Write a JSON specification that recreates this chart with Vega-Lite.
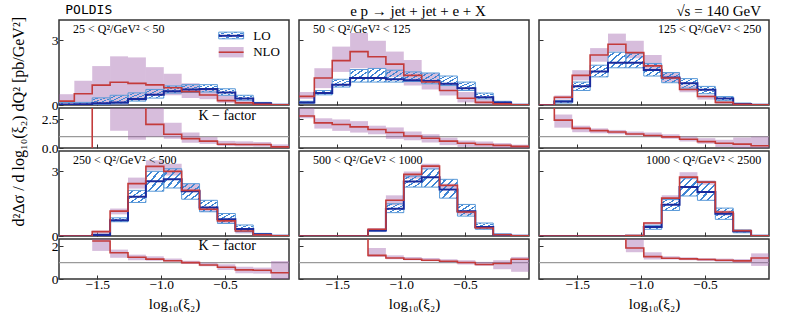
{
"$schema": "https://vega.github.io/schema/vega-lite/v6.json",
"background": "white",
"padding": {"left": 11, "top": 3, "right": 5, "bottom": 2},
"config": {
 "view": {"stroke": "#333", "strokeWidth": 1.5},
 "axis": {"domain": false, "grid": false, "tickSize": -4, "tickColor": "#333", "tickWidth": 1, "labelPadding": 5, "labelFont": "Liberation Serif", "labelFontSize": 13.5, "labelColor": "#000", "titleFont": "Liberation Serif", "titleFontSize": 15, "titleFontWeight": "normal", "titleColor": "#000"},
 "axisX": {"labelPadding": 2, "titlePadding": 6},
 "text": {"font": "Liberation Serif", "color": "#000"}
},
"title": {"text": "d²Δσ / d log₁₀(ξ₂) dQ² [pb/GeV²]", "orient": "left", "anchor": "middle", "font": "Liberation Serif", "fontSize": 16, "fontWeight": "normal", "color": "#000", "offset": 13, "dx": 36},
"datasets": {
 "p1": [
  {"x0": -1.82, "x1": -1.68, "lo": 0.02, "lolo": 0, "lohi": 0.12, "nlo": 0.18, "nlolo": 0, "nlohi": 0.5, "k": null, "klo": null, "khi": null},
  {"x0": -1.68, "x1": -1.54, "lo": 0.03, "lolo": 0, "lohi": 0.12, "nlo": 0.52, "nlolo": 0, "nlohi": 1.12, "k": -5, "klo": null, "khi": null},
  {"x0": -1.54, "x1": -1.4, "lo": 0.08, "lolo": 0.03, "lohi": 0.33, "nlo": 0.92, "nlolo": 0, "nlohi": 1.8, "k": 12, "klo": null, "khi": null},
  {"x0": -1.4, "x1": -1.26, "lo": 0.12, "lolo": 0.05, "lohi": 0.45, "nlo": 1.05, "nlolo": 0, "nlohi": 2.25, "k": 10, "klo": 1.5, "khi": 20},
  {"x0": -1.26, "x1": -1.12, "lo": 0.28, "lolo": 0.18, "lohi": 0.56, "nlo": 1.0, "nlolo": 0.2, "nlohi": 2.2, "k": 3.6, "klo": 0.72, "khi": 10},
  {"x0": -1.12, "x1": -0.98, "lo": 0.47, "lolo": 0.32, "lohi": 0.72, "nlo": 0.93, "nlolo": 0.45, "nlohi": 1.75, "k": 2.07, "klo": 1.0, "khi": 4},
  {"x0": -0.98, "x1": -0.84, "lo": 0.64, "lolo": 0.55, "lohi": 0.88, "nlo": 0.8, "nlolo": 0.45, "nlohi": 1.45, "k": 1.2, "klo": 0.8, "khi": 2.2},
  {"x0": -0.84, "x1": -0.7, "lo": 0.72, "lolo": 0.58, "lohi": 0.94, "nlo": 0.62, "nlolo": 0.32, "nlohi": 1.0, "k": 0.82, "klo": 0.45, "khi": 1.35},
  {"x0": -0.7, "x1": -0.56, "lo": 0.74, "lolo": 0.6, "lohi": 0.94, "nlo": 0.46, "nlolo": 0.27, "nlohi": 0.78, "k": 0.6, "klo": 0.36, "khi": 0.95},
  {"x0": -0.56, "x1": -0.42, "lo": 0.58, "lolo": 0.45, "lohi": 0.75, "nlo": 0.2, "nlolo": 0.1, "nlohi": 0.45, "k": 0.33, "klo": 0.18, "khi": 0.62},
  {"x0": -0.42, "x1": -0.28, "lo": 0.3, "lolo": 0.22, "lohi": 0.45, "nlo": 0.1, "nlolo": 0.03, "nlohi": 0.22, "k": 0.31, "klo": 0.15, "khi": 0.58},
  {"x0": -0.28, "x1": -0.14, "lo": 0.08, "lolo": 0.03, "lohi": 0.12, "nlo": 0.03, "nlolo": 0, "nlohi": 0.1, "k": 0.3, "klo": 0.12, "khi": 0.52},
  {"x0": -0.14, "x1": 0, "lo": 0.01, "lolo": null, "lohi": null, "nlo": 0.005, "nlolo": null, "nlohi": null, "k": 0.1, "klo": 0, "khi": 0.32}
 ],
 "p2": [
  {"x0": -1.82, "x1": -1.68, "lo": 0.12, "lolo": 0.08, "lohi": 0.17, "nlo": 0.4, "nlolo": 0.28, "nlohi": 0.6, "k": 2.8, "klo": 2.6, "khi": 3.6},
  {"x0": -1.68, "x1": -1.54, "lo": 0.56, "lolo": 0.47, "lohi": 0.67, "nlo": 1.25, "nlolo": 0.78, "nlohi": 1.7, "k": 2.2, "klo": 1.7, "khi": 2.6},
  {"x0": -1.54, "x1": -1.4, "lo": 0.94, "lolo": 0.83, "lohi": 1.19, "nlo": 2.05, "nlolo": 1.53, "nlohi": 2.7, "k": 2.05, "klo": 1.5, "khi": 2.5},
  {"x0": -1.4, "x1": -1.26, "lo": 1.25, "lolo": 1.06, "lohi": 1.64, "nlo": 2.47, "nlolo": 1.7, "nlohi": 3.33, "k": 1.85, "klo": 1.35, "khi": 2.35},
  {"x0": -1.26, "x1": -1.12, "lo": 1.25, "lolo": 1.06, "lohi": 1.69, "nlo": 2.23, "nlolo": 1.7, "nlohi": 2.97, "k": 1.62, "klo": 1.2, "khi": 1.95},
  {"x0": -1.12, "x1": -0.98, "lo": 1.19, "lolo": 1.06, "lohi": 1.61, "nlo": 1.89, "nlolo": 1.3, "nlohi": 2.47, "k": 1.35, "klo": 0.8, "khi": 1.8},
  {"x0": -0.98, "x1": -0.84, "lo": 1.14, "lolo": 1.09, "lohi": 1.53, "nlo": 1.37, "nlolo": 0.9, "nlohi": 2.08, "k": 1.05, "klo": 0.68, "khi": 1.45},
  {"x0": -0.84, "x1": -0.7, "lo": 1.11, "lolo": 0.98, "lohi": 1.48, "nlo": 1.06, "nlolo": 0.72, "nlohi": 1.48, "k": 0.85, "klo": 0.48, "khi": 1.2},
  {"x0": -0.7, "x1": -0.56, "lo": 0.98, "lolo": 0.9, "lohi": 1.34, "nlo": 0.67, "nlolo": 0.44, "nlohi": 1.0, "k": 0.6, "klo": 0.25, "khi": 0.9},
  {"x0": -0.56, "x1": -0.42, "lo": 0.78, "lolo": 0.67, "lohi": 1.06, "nlo": 0.31, "nlolo": 0.12, "nlohi": 0.6, "k": 0.42, "klo": 0.1, "khi": 0.65},
  {"x0": -0.42, "x1": -0.28, "lo": 0.36, "lolo": 0.28, "lohi": 0.55, "nlo": 0.12, "nlolo": 0.02, "nlohi": 0.25, "k": 0.3, "klo": 0.09, "khi": 0.57},
  {"x0": -0.28, "x1": -0.14, "lo": 0.12, "lolo": 0.08, "lohi": 0.17, "nlo": 0.05, "nlolo": 0.01, "nlohi": 0.08, "k": 0.23, "klo": 0, "khi": 0.43},
  {"x0": -0.14, "x1": 0, "lo": 0.01, "lolo": null, "lohi": null, "nlo": 0.01, "nlolo": null, "nlohi": null, "k": 0.14, "klo": 0, "khi": 0.29}
 ],
 "p3": [
  {"x0": -1.82, "x1": -1.68, "lo": 0, "lolo": null, "lohi": null, "nlo": 0, "nlolo": null, "nlohi": null, "k": 10, "klo": null, "khi": null},
  {"x0": -1.68, "x1": -1.54, "lo": 0.16, "lolo": 0.09, "lohi": 0.2, "nlo": 0.36, "nlolo": 0.25, "nlohi": 0.44, "k": 2.44, "klo": 1.78, "khi": 2.93},
  {"x0": -1.54, "x1": -1.4, "lo": 0.87, "lolo": 0.67, "lohi": 1.06, "nlo": 1.37, "nlolo": 1.14, "nlohi": 1.61, "k": 1.72, "klo": 1.38, "khi": 1.95},
  {"x0": -1.4, "x1": -1.26, "lo": 1.55, "lolo": 1.3, "lohi": 1.84, "nlo": 2.31, "nlolo": 2.0, "nlohi": 2.63, "k": 1.52, "klo": 1.29, "khi": 1.72},
  {"x0": -1.26, "x1": -1.12, "lo": 1.95, "lolo": 1.72, "lohi": 2.44, "nlo": 2.81, "nlolo": 2.47, "nlohi": 3.3, "k": 1.4, "klo": 1.21, "khi": 1.58},
  {"x0": -1.12, "x1": -0.98, "lo": 1.95, "lolo": 1.72, "lohi": 2.39, "nlo": 2.42, "nlolo": 2.16, "nlohi": 2.97, "k": 1.22, "klo": 1.09, "khi": 1.44},
  {"x0": -0.98, "x1": -0.84, "lo": 1.62, "lolo": 1.34, "lohi": 1.92, "nlo": 1.81, "nlolo": 1.61, "nlohi": 2.31, "k": 1.1, "klo": 1.0, "khi": 1.35},
  {"x0": -0.84, "x1": -0.7, "lo": 1.27, "lolo": 1.03, "lohi": 1.5, "nlo": 1.25, "nlolo": 1.06, "nlohi": 1.53, "k": 0.97, "klo": 0.8, "khi": 1.21},
  {"x0": -0.7, "x1": -0.56, "lo": 1.0, "lolo": 0.78, "lohi": 1.22, "nlo": 0.72, "nlolo": 0.59, "nlohi": 0.9, "k": 0.76, "klo": 0.57, "khi": 1.0},
  {"x0": -0.56, "x1": -0.42, "lo": 0.7, "lolo": 0.52, "lohi": 0.86, "nlo": 0.39, "nlolo": 0.25, "nlohi": 0.47, "k": 0.56, "klo": 0.37, "khi": 0.86},
  {"x0": -0.42, "x1": -0.28, "lo": 0.3, "lolo": 0.2, "lohi": 0.39, "nlo": 0.12, "nlolo": 0.05, "nlohi": 0.17, "k": 0.42, "klo": 0.09, "khi": 0.72},
  {"x0": -0.28, "x1": -0.14, "lo": 0.05, "lolo": 0.02, "lohi": 0.09, "nlo": 0.03, "nlolo": 0, "nlohi": 0.05, "k": 0.34, "klo": 0, "khi": 0.92},
  {"x0": -0.14, "x1": 0, "lo": 0.01, "lolo": null, "lohi": null, "nlo": 0.005, "nlolo": null, "nlohi": null, "k": 0.2, "klo": 0, "khi": 1.0}
 ],
 "p4": [
  {"x0": -1.82, "x1": -1.68, "lo": 0, "lolo": null, "lohi": null, "nlo": 0, "nlolo": null, "nlohi": null, "k": null, "klo": null, "khi": null},
  {"x0": -1.68, "x1": -1.54, "lo": 0, "lolo": null, "lohi": null, "nlo": 0, "nlolo": null, "nlohi": null, "k": null, "klo": null, "khi": null},
  {"x0": -1.54, "x1": -1.4, "lo": 0.05, "lolo": 0.02, "lohi": 0.08, "nlo": 0.2, "nlolo": 0, "nlohi": 0.25, "k": 2.33, "klo": 1.72, "khi": 2.8},
  {"x0": -1.4, "x1": -1.26, "lo": 0.73, "lolo": 0.66, "lohi": 0.84, "nlo": 1.15, "nlolo": 1.0, "nlohi": 1.27, "k": 1.61, "klo": 1.3, "khi": 1.8},
  {"x0": -1.26, "x1": -1.12, "lo": 1.81, "lolo": 1.55, "lohi": 2.11, "nlo": 2.42, "nlolo": 2.19, "nlohi": 2.7, "k": 1.33, "klo": 1.15, "khi": 1.49},
  {"x0": -1.12, "x1": -0.98, "lo": 2.53, "lolo": 2.07, "lohi": 2.99, "nlo": 3.22, "nlolo": 3.03, "nlohi": 3.5, "k": 1.22, "klo": 1.12, "khi": 1.39},
  {"x0": -0.98, "x1": -0.84, "lo": 2.62, "lolo": 2.22, "lohi": 3.11, "nlo": 2.99, "nlolo": 2.8, "nlohi": 3.34, "k": 1.12, "klo": 1.05, "khi": 1.25},
  {"x0": -0.84, "x1": -0.7, "lo": 2.07, "lolo": 1.7, "lohi": 2.42, "nlo": 2.11, "nlolo": 2.04, "nlohi": 2.42, "k": 1.0, "klo": 0.92, "khi": 1.12},
  {"x0": -0.7, "x1": -0.56, "lo": 1.32, "lolo": 1.12, "lohi": 1.65, "nlo": 1.24, "nlolo": 1.12, "nlohi": 1.35, "k": 0.86, "klo": 0.78, "khi": 1.0},
  {"x0": -0.56, "x1": -0.42, "lo": 0.78, "lolo": 0.58, "lohi": 1.04, "nlo": 0.7, "nlolo": 0.58, "nlohi": 0.78, "k": 0.72, "klo": 0.55, "khi": 0.9},
  {"x0": -0.42, "x1": -0.28, "lo": 0.32, "lolo": 0.2, "lohi": 0.51, "nlo": 0.23, "nlolo": 0.12, "nlohi": 0.28, "k": 0.56, "klo": 0.35, "khi": 0.75},
  {"x0": -0.28, "x1": -0.14, "lo": 0.08, "lolo": 0.03, "lohi": 0.12, "nlo": 0.05, "nlolo": 0.02, "nlohi": 0.07, "k": 0.54, "klo": 0.33, "khi": 0.7},
  {"x0": -0.14, "x1": 0, "lo": 0.01, "lolo": null, "lohi": null, "nlo": 0.01, "nlolo": null, "nlohi": null, "k": 0.38, "klo": 0, "khi": 1.1}
 ],
 "p5": [
  {"x0": -1.82, "x1": -1.68, "lo": 0, "lolo": null, "lohi": null, "nlo": 0, "nlolo": null, "nlohi": null, "k": null, "klo": null, "khi": null},
  {"x0": -1.68, "x1": -1.54, "lo": 0, "lolo": null, "lohi": null, "nlo": 0, "nlolo": null, "nlohi": null, "k": null, "klo": null, "khi": null},
  {"x0": -1.54, "x1": -1.4, "lo": 0, "lolo": null, "lohi": null, "nlo": 0, "nlolo": null, "nlohi": null, "k": null, "klo": null, "khi": null},
  {"x0": -1.4, "x1": -1.26, "lo": 0, "lolo": null, "lohi": null, "nlo": 0, "nlolo": null, "nlohi": null, "k": 10, "klo": null, "khi": null},
  {"x0": -1.26, "x1": -1.12, "lo": 0.26, "lolo": 0.22, "lohi": 0.29, "nlo": 0.31, "nlolo": 0.18, "nlohi": 0.37, "k": 1.45, "klo": 1.35, "khi": 1.9},
  {"x0": -1.12, "x1": -0.98, "lo": 1.26, "lolo": 1.08, "lohi": 1.49, "nlo": 1.65, "nlolo": 1.42, "nlohi": 1.88, "k": 1.29, "klo": 1.21, "khi": 1.45},
  {"x0": -0.98, "x1": -0.84, "lo": 2.52, "lolo": 2.26, "lohi": 2.77, "nlo": 2.85, "nlolo": 2.65, "nlohi": 2.98, "k": 1.21, "klo": 1.15, "khi": 1.35},
  {"x0": -0.84, "x1": -0.7, "lo": 2.72, "lolo": 2.26, "lohi": 3.1, "nlo": 3.23, "nlolo": 3.1, "nlohi": 3.34, "k": 1.15, "klo": 1.09, "khi": 1.29},
  {"x0": -0.7, "x1": -0.56, "lo": 2.15, "lolo": 1.75, "lohi": 2.62, "nlo": 2.34, "nlolo": 2.22, "nlohi": 2.42, "k": 1.09, "klo": 1.01, "khi": 1.21},
  {"x0": -0.56, "x1": -0.42, "lo": 1.14, "lolo": 0.92, "lohi": 1.46, "nlo": 1.11, "nlolo": 0.98, "nlohi": 1.18, "k": 1.01, "klo": 0.89, "khi": 1.15},
  {"x0": -0.42, "x1": -0.28, "lo": 0.42, "lolo": 0.31, "lohi": 0.6, "nlo": 0.37, "nlolo": 0.31, "nlohi": 0.42, "k": 0.89, "klo": 0.81, "khi": 1.05},
  {"x0": -0.28, "x1": -0.14, "lo": 0.06, "lolo": 0.03, "lohi": 0.09, "nlo": 0.06, "nlolo": 0.03, "nlohi": 0.08, "k": 0.95, "klo": 0.6, "khi": 1.15},
  {"x0": -0.14, "x1": 0, "lo": 0.01, "lolo": null, "lohi": null, "nlo": 0.01, "nlolo": null, "nlohi": null, "k": 1.21, "klo": 0.44, "khi": 1.35}
 ],
 "p6": [
  {"x0": -1.82, "x1": -1.68, "lo": 0, "lolo": null, "lohi": null, "nlo": 0, "nlolo": null, "nlohi": null, "k": null, "klo": null, "khi": null},
  {"x0": -1.68, "x1": -1.54, "lo": 0, "lolo": null, "lohi": null, "nlo": 0, "nlolo": null, "nlohi": null, "k": null, "klo": null, "khi": null},
  {"x0": -1.54, "x1": -1.4, "lo": 0, "lolo": null, "lohi": null, "nlo": 0, "nlolo": null, "nlohi": null, "k": null, "klo": null, "khi": null},
  {"x0": -1.4, "x1": -1.26, "lo": 0, "lolo": null, "lohi": null, "nlo": 0, "nlolo": null, "nlohi": null, "k": null, "klo": null, "khi": null},
  {"x0": -1.26, "x1": -1.12, "lo": 0, "lolo": null, "lohi": null, "nlo": 0, "nlolo": null, "nlohi": null, "k": 10, "klo": null, "khi": null},
  {"x0": -1.12, "x1": -0.98, "lo": 0.01, "lolo": null, "lohi": null, "nlo": 0.02, "nlolo": null, "nlohi": null, "k": 1.9, "klo": 1.64, "khi": 2.44},
  {"x0": -0.98, "x1": -0.84, "lo": 0.42, "lolo": 0.31, "lohi": 0.49, "nlo": 0.6, "nlolo": 0.52, "nlohi": 0.65, "k": 1.37, "klo": 1.2, "khi": 1.64},
  {"x0": -0.84, "x1": -0.7, "lo": 1.45, "lolo": 1.18, "lohi": 1.69, "nlo": 1.75, "nlolo": 1.65, "nlohi": 1.88, "k": 1.27, "klo": 1.2, "khi": 1.4},
  {"x0": -0.7, "x1": -0.56, "lo": 2.26, "lolo": 1.85, "lohi": 2.68, "nlo": 2.72, "nlolo": 2.62, "nlohi": 2.95, "k": 1.23, "klo": 1.15, "khi": 1.33},
  {"x0": -0.56, "x1": -0.42, "lo": 2.03, "lolo": 1.65, "lohi": 2.52, "nlo": 2.49, "nlolo": 2.37, "nlohi": 2.57, "k": 1.19, "klo": 1.1, "khi": 1.28},
  {"x0": -0.42, "x1": -0.28, "lo": 1.03, "lolo": 0.77, "lohi": 1.29, "nlo": 1.11, "nlolo": 0.95, "nlohi": 1.18, "k": 1.15, "klo": 1.05, "khi": 1.25},
  {"x0": -0.28, "x1": -0.14, "lo": 0.22, "lolo": 0.15, "lohi": 0.28, "nlo": 0.25, "nlolo": 0.18, "nlohi": 0.28, "k": 1.11, "klo": 0.98, "khi": 1.22},
  {"x0": -0.14, "x1": 0, "lo": 0.01, "lolo": null, "lohi": null, "nlo": 0.01, "nlolo": null, "nlohi": null, "k": 1.29, "klo": 0.8, "khi": 1.57}
 ]
},
"hconcat": [
 {"vconcat": [
   {"width": 230, "height": 85, "data": {"name": "p1"},
    "title": {"text": "POLDIS", "anchor": "start", "font": "DejaVu Sans Mono", "fontSize": 13, "fontWeight": "normal", "color": "#000", "dx": 14, "offset": 3},
    "layer": [
     {"mark": {"type": "rect", "fill": "#9c5aa8", "fillOpacity": 0.4, "clip": true},
      "encoding": {"x": {"field": "x0", "type": "quantitative", "scale": {"domain": [-1.8, 0], "nice": false}, "axis": {"values": [-1.5, -1, -0.5], "labels": false, "title": null, "maxExtent": 0}},
       "x2": {"field": "x1"},
       "y": {"field": "nlolo", "type": "quantitative", "scale": {"domain": [0, 3.93], "nice": false}, "axis": {"values": [0, 1, 2, 3], "format": "d", "title": null}},
       "y2": {"field": "nlohi"}}},
     {"mark": {"type": "rect", "fill": {"gradient": "linear", "x1": 0, "y1": 0, "x2": 1, "y2": 1, "stops": [{"offset": 0, "color": "rgba(255,255,255,0)"}, {"offset": 0.14, "color": "rgba(255,255,255,0)"}, {"offset": 0.14, "color": "#3f86d4"}, {"offset": 0.2, "color": "#3f86d4"}, {"offset": 0.2, "color": "rgba(255,255,255,0)"}, {"offset": 0.34, "color": "rgba(255,255,255,0)"}, {"offset": 0.34, "color": "#3f86d4"}, {"offset": 0.4, "color": "#3f86d4"}, {"offset": 0.4, "color": "rgba(255,255,255,0)"}, {"offset": 0.54, "color": "rgba(255,255,255,0)"}, {"offset": 0.54, "color": "#3f86d4"}, {"offset": 0.6, "color": "#3f86d4"}, {"offset": 0.6, "color": "rgba(255,255,255,0)"}, {"offset": 0.74, "color": "rgba(255,255,255,0)"}, {"offset": 0.74, "color": "#3f86d4"}, {"offset": 0.8, "color": "#3f86d4"}, {"offset": 0.8, "color": "rgba(255,255,255,0)"}, {"offset": 0.94, "color": "rgba(255,255,255,0)"}, {"offset": 0.94, "color": "#3f86d4"}, {"offset": 1, "color": "#3f86d4"}]}, "stroke": "#5b9ad8", "strokeWidth": 1, "clip": true},
      "encoding": {"x": {"field": "x0", "type": "quantitative"}, "x2": {"field": "x1"}, "y": {"field": "lolo", "type": "quantitative"}, "y2": {"field": "lohi"}}},
     {"transform": [{"fold": ["x0", "x1"], "as": ["edge", "x"]}],
      "mark": {"type": "line", "color": "#1a2a9c", "strokeWidth": 2, "clip": true},
      "encoding": {"x": {"field": "x", "type": "quantitative"}, "y": {"field": "lo", "type": "quantitative"}, "order": [{"field": "x", "type": "quantitative"}, {"field": "edge", "type": "nominal", "sort": "descending"}]}},
     {"transform": [{"fold": ["x0", "x1"], "as": ["edge", "x"]}],
      "mark": {"type": "line", "color": "#c33b3b", "strokeWidth": 1.6, "clip": true},
      "encoding": {"x": {"field": "x", "type": "quantitative"}, "y": {"field": "nlo", "type": "quantitative"}, "order": [{"field": "x", "type": "quantitative"}, {"field": "edge", "type": "nominal", "sort": "descending"}]}},
     {"data": {"values": [{}]}, "mark": {"type": "text", "text": "25 < Q²/GeV² < 50", "align": "left", "baseline": "middle", "fontSize": 12},
      "encoding": {"x": {"datum": -1.69}, "y": {"datum": 3.53}}},
     {"data": {"values": [{}]}, "mark": {"type": "rect", "fill": {"gradient": "linear", "x1": 0, "y1": 0, "x2": 1, "y2": 1, "stops": [{"offset": 0, "color": "rgba(255,255,255,0)"}, {"offset": 0.14, "color": "rgba(255,255,255,0)"}, {"offset": 0.14, "color": "#3f86d4"}, {"offset": 0.2, "color": "#3f86d4"}, {"offset": 0.2, "color": "rgba(255,255,255,0)"}, {"offset": 0.34, "color": "rgba(255,255,255,0)"}, {"offset": 0.34, "color": "#3f86d4"}, {"offset": 0.4, "color": "#3f86d4"}, {"offset": 0.4, "color": "rgba(255,255,255,0)"}, {"offset": 0.54, "color": "rgba(255,255,255,0)"}, {"offset": 0.54, "color": "#3f86d4"}, {"offset": 0.6, "color": "#3f86d4"}, {"offset": 0.6, "color": "rgba(255,255,255,0)"}, {"offset": 0.74, "color": "rgba(255,255,255,0)"}, {"offset": 0.74, "color": "#3f86d4"}, {"offset": 0.8, "color": "#3f86d4"}, {"offset": 0.8, "color": "rgba(255,255,255,0)"}, {"offset": 0.94, "color": "rgba(255,255,255,0)"}, {"offset": 0.94, "color": "#3f86d4"}, {"offset": 1, "color": "#3f86d4"}]}, "stroke": "#5b9ad8", "strokeWidth": 1},
      "encoding": {"x": {"datum": -0.55}, "x2": {"datum": -0.355}, "y": {"datum": 3.06}, "y2": {"datum": 3.37}}},
     {"data": {"values": [{}]}, "mark": {"type": "rule", "color": "#1a2a9c", "strokeWidth": 2},
      "encoding": {"x": {"datum": -0.55}, "x2": {"datum": -0.355}, "y": {"datum": 3.2}}},
     {"data": {"values": [{}]}, "mark": {"type": "rect", "fill": "#9c5aa8", "fillOpacity": 0.4},
      "encoding": {"x": {"datum": -0.55}, "x2": {"datum": -0.355}, "y": {"datum": 2.2}, "y2": {"datum": 2.68}}},
     {"data": {"values": [{}]}, "mark": {"type": "rule", "color": "#c33b3b", "strokeWidth": 1.6},
      "encoding": {"x": {"datum": -0.55}, "x2": {"datum": -0.355}, "y": {"datum": 2.44}}},
     {"data": {"values": [{}]}, "mark": {"type": "text", "text": "LO", "align": "left", "baseline": "middle", "fontSize": 13},
      "encoding": {"x": {"datum": -0.28}, "y": {"datum": 3.2}}},
     {"data": {"values": [{}]}, "mark": {"type": "text", "text": "NLO", "align": "left", "baseline": "middle", "fontSize": 13},
      "encoding": {"x": {"datum": -0.28}, "y": {"datum": 2.44}}}
    ]},
   {"width": 230, "height": 40, "data": {"name": "p1"},
    "layer": [
     {"data": {"values": [{}]}, "mark": {"type": "rule", "color": "#9a9a9a", "strokeWidth": 1.3}, "encoding": {"y": {"datum": 1}}},
     {"mark": {"type": "rect", "fill": "#9c5aa8", "fillOpacity": 0.4, "clip": true},
      "encoding": {"x": {"field": "x0", "type": "quantitative", "scale": {"domain": [-1.8, 0], "nice": false}, "axis": {"values": [-1.5, -1, -0.5], "labels": false, "title": null, "maxExtent": 0}},
       "x2": {"field": "x1"},
       "y": {"field": "klo", "type": "quantitative", "scale": {"domain": [0, 3.5], "nice": false}, "axis": {"values": [0, 2.5], "format": ".1f", "title": null}},
       "y2": {"field": "khi"}}},
     {"transform": [{"fold": ["x0", "x1"], "as": ["edge", "x"]}],
      "mark": {"type": "line", "color": "#c33b3b", "strokeWidth": 1.6, "clip": true},
      "encoding": {"x": {"field": "x", "type": "quantitative"}, "y": {"field": "k", "type": "quantitative"}, "order": [{"field": "x", "type": "quantitative"}, {"field": "edge", "type": "nominal", "sort": "descending"}]}},
     {"data": {"values": [{}]}, "mark": {"type": "text", "text": "K − factor", "align": "right", "baseline": "middle", "fontSize": 14},
      "encoding": {"x": {"datum": -0.258}, "y": {"datum": 2.76}}}
    ]},
   {"width": 230, "height": 85, "data": {"name": "p4"},
    "layer": [
     {"mark": {"type": "rect", "fill": "#9c5aa8", "fillOpacity": 0.4, "clip": true},
      "encoding": {"x": {"field": "x0", "type": "quantitative", "scale": {"domain": [-1.8, 0], "nice": false}, "axis": {"values": [-1.5, -1, -0.5], "labels": false, "title": null, "maxExtent": 0}},
       "x2": {"field": "x1"},
       "y": {"field": "nlolo", "type": "quantitative", "scale": {"domain": [0, 3.93], "nice": false}, "axis": {"values": [0, 1, 2, 3], "format": "d", "title": null}},
       "y2": {"field": "nlohi"}}},
     {"mark": {"type": "rect", "fill": {"gradient": "linear", "x1": 0, "y1": 0, "x2": 1, "y2": 1, "stops": [{"offset": 0, "color": "rgba(255,255,255,0)"}, {"offset": 0.14, "color": "rgba(255,255,255,0)"}, {"offset": 0.14, "color": "#3f86d4"}, {"offset": 0.2, "color": "#3f86d4"}, {"offset": 0.2, "color": "rgba(255,255,255,0)"}, {"offset": 0.34, "color": "rgba(255,255,255,0)"}, {"offset": 0.34, "color": "#3f86d4"}, {"offset": 0.4, "color": "#3f86d4"}, {"offset": 0.4, "color": "rgba(255,255,255,0)"}, {"offset": 0.54, "color": "rgba(255,255,255,0)"}, {"offset": 0.54, "color": "#3f86d4"}, {"offset": 0.6, "color": "#3f86d4"}, {"offset": 0.6, "color": "rgba(255,255,255,0)"}, {"offset": 0.74, "color": "rgba(255,255,255,0)"}, {"offset": 0.74, "color": "#3f86d4"}, {"offset": 0.8, "color": "#3f86d4"}, {"offset": 0.8, "color": "rgba(255,255,255,0)"}, {"offset": 0.94, "color": "rgba(255,255,255,0)"}, {"offset": 0.94, "color": "#3f86d4"}, {"offset": 1, "color": "#3f86d4"}]}, "stroke": "#5b9ad8", "strokeWidth": 1, "clip": true},
      "encoding": {"x": {"field": "x0", "type": "quantitative"}, "x2": {"field": "x1"}, "y": {"field": "lolo", "type": "quantitative"}, "y2": {"field": "lohi"}}},
     {"transform": [{"fold": ["x0", "x1"], "as": ["edge", "x"]}],
      "mark": {"type": "line", "color": "#1a2a9c", "strokeWidth": 2, "clip": true},
      "encoding": {"x": {"field": "x", "type": "quantitative"}, "y": {"field": "lo", "type": "quantitative"}, "order": [{"field": "x", "type": "quantitative"}, {"field": "edge", "type": "nominal", "sort": "descending"}]}},
     {"transform": [{"fold": ["x0", "x1"], "as": ["edge", "x"]}],
      "mark": {"type": "line", "color": "#c33b3b", "strokeWidth": 1.6, "clip": true},
      "encoding": {"x": {"field": "x", "type": "quantitative"}, "y": {"field": "nlo", "type": "quantitative"}, "order": [{"field": "x", "type": "quantitative"}, {"field": "edge", "type": "nominal", "sort": "descending"}]}},
     {"data": {"values": [{}]}, "mark": {"type": "text", "text": "250 < Q²/GeV² < 500", "align": "left", "baseline": "middle", "fontSize": 12},
      "encoding": {"x": {"datum": -1.69}, "y": {"datum": 3.53}}}
    ]},
   {"width": 230, "height": 40, "data": {"name": "p4"},
    "layer": [
     {"data": {"values": [{}]}, "mark": {"type": "rule", "color": "#9a9a9a", "strokeWidth": 1.3}, "encoding": {"y": {"datum": 1}}},
     {"mark": {"type": "rect", "fill": "#9c5aa8", "fillOpacity": 0.4, "clip": true},
      "encoding": {"x": {"field": "x0", "type": "quantitative", "scale": {"domain": [-1.8, 0], "nice": false}, "axis": {"values": [-1.5, -1, -0.5], "format": ".1f", "title": "log₁₀(ξ₂)"}},
       "x2": {"field": "x1"},
       "y": {"field": "klo", "type": "quantitative", "scale": {"domain": [0, 2.45], "nice": false}, "axis": {"values": [0, 2], "format": "d", "title": null}},
       "y2": {"field": "khi"}}},
     {"transform": [{"fold": ["x0", "x1"], "as": ["edge", "x"]}],
      "mark": {"type": "line", "color": "#c33b3b", "strokeWidth": 1.6, "clip": true},
      "encoding": {"x": {"field": "x", "type": "quantitative"}, "y": {"field": "k", "type": "quantitative"}, "order": [{"field": "x", "type": "quantitative"}, {"field": "edge", "type": "nominal", "sort": "descending"}]}},
     {"data": {"values": [{}]}, "mark": {"type": "text", "text": "K − factor", "align": "right", "baseline": "middle", "fontSize": 14},
      "encoding": {"x": {"datum": -0.258}, "y": {"datum": 2.05}}}
    ]}
  ], "spacing": 3, "bounds": "flush"},
 {"vconcat": [
   {"width": 230, "height": 85, "data": {"name": "p2"},
    "title": {"text": "e p → jet + jet + e + X", "anchor": "middle", "font": "Liberation Serif", "fontSize": 15, "fontWeight": "normal", "color": "#000", "dx": 4, "offset": 1},
    "layer": [
     {"mark": {"type": "rect", "fill": "#9c5aa8", "fillOpacity": 0.4, "clip": true},
      "encoding": {"x": {"field": "x0", "type": "quantitative", "scale": {"domain": [-1.8, 0], "nice": false}, "axis": {"values": [-1.5, -1, -0.5], "labels": false, "title": null, "maxExtent": 0}},
       "x2": {"field": "x1"},
       "y": {"field": "nlolo", "type": "quantitative", "scale": {"domain": [0, 3.93], "nice": false}, "axis": {"values": [0, 1, 2, 3], "labels": false, "title": null, "maxExtent": 0}},
       "y2": {"field": "nlohi"}}},
     {"mark": {"type": "rect", "fill": {"gradient": "linear", "x1": 0, "y1": 0, "x2": 1, "y2": 1, "stops": [{"offset": 0, "color": "rgba(255,255,255,0)"}, {"offset": 0.14, "color": "rgba(255,255,255,0)"}, {"offset": 0.14, "color": "#3f86d4"}, {"offset": 0.2, "color": "#3f86d4"}, {"offset": 0.2, "color": "rgba(255,255,255,0)"}, {"offset": 0.34, "color": "rgba(255,255,255,0)"}, {"offset": 0.34, "color": "#3f86d4"}, {"offset": 0.4, "color": "#3f86d4"}, {"offset": 0.4, "color": "rgba(255,255,255,0)"}, {"offset": 0.54, "color": "rgba(255,255,255,0)"}, {"offset": 0.54, "color": "#3f86d4"}, {"offset": 0.6, "color": "#3f86d4"}, {"offset": 0.6, "color": "rgba(255,255,255,0)"}, {"offset": 0.74, "color": "rgba(255,255,255,0)"}, {"offset": 0.74, "color": "#3f86d4"}, {"offset": 0.8, "color": "#3f86d4"}, {"offset": 0.8, "color": "rgba(255,255,255,0)"}, {"offset": 0.94, "color": "rgba(255,255,255,0)"}, {"offset": 0.94, "color": "#3f86d4"}, {"offset": 1, "color": "#3f86d4"}]}, "stroke": "#5b9ad8", "strokeWidth": 1, "clip": true},
      "encoding": {"x": {"field": "x0", "type": "quantitative"}, "x2": {"field": "x1"}, "y": {"field": "lolo", "type": "quantitative"}, "y2": {"field": "lohi"}}},
     {"transform": [{"fold": ["x0", "x1"], "as": ["edge", "x"]}],
      "mark": {"type": "line", "color": "#1a2a9c", "strokeWidth": 2, "clip": true},
      "encoding": {"x": {"field": "x", "type": "quantitative"}, "y": {"field": "lo", "type": "quantitative"}, "order": [{"field": "x", "type": "quantitative"}, {"field": "edge", "type": "nominal", "sort": "descending"}]}},
     {"transform": [{"fold": ["x0", "x1"], "as": ["edge", "x"]}],
      "mark": {"type": "line", "color": "#c33b3b", "strokeWidth": 1.6, "clip": true},
      "encoding": {"x": {"field": "x", "type": "quantitative"}, "y": {"field": "nlo", "type": "quantitative"}, "order": [{"field": "x", "type": "quantitative"}, {"field": "edge", "type": "nominal", "sort": "descending"}]}},
     {"data": {"values": [{}]}, "mark": {"type": "text", "text": "50 < Q²/GeV² < 125", "align": "left", "baseline": "middle", "fontSize": 12},
      "encoding": {"x": {"datum": -1.69}, "y": {"datum": 3.53}}}
    ]},
   {"width": 230, "height": 40, "data": {"name": "p2"},
    "layer": [
     {"data": {"values": [{}]}, "mark": {"type": "rule", "color": "#9a9a9a", "strokeWidth": 1.3}, "encoding": {"y": {"datum": 1}}},
     {"mark": {"type": "rect", "fill": "#9c5aa8", "fillOpacity": 0.4, "clip": true},
      "encoding": {"x": {"field": "x0", "type": "quantitative", "scale": {"domain": [-1.8, 0], "nice": false}, "axis": {"values": [-1.5, -1, -0.5], "labels": false, "title": null, "maxExtent": 0}},
       "x2": {"field": "x1"},
       "y": {"field": "klo", "type": "quantitative", "scale": {"domain": [0, 3.5], "nice": false}, "axis": {"values": [0, 2.5], "labels": false, "title": null, "maxExtent": 0}},
       "y2": {"field": "khi"}}},
     {"transform": [{"fold": ["x0", "x1"], "as": ["edge", "x"]}],
      "mark": {"type": "line", "color": "#c33b3b", "strokeWidth": 1.6, "clip": true},
      "encoding": {"x": {"field": "x", "type": "quantitative"}, "y": {"field": "k", "type": "quantitative"}, "order": [{"field": "x", "type": "quantitative"}, {"field": "edge", "type": "nominal", "sort": "descending"}]}}
    ]},
   {"width": 230, "height": 85, "data": {"name": "p5"},
    "layer": [
     {"mark": {"type": "rect", "fill": "#9c5aa8", "fillOpacity": 0.4, "clip": true},
      "encoding": {"x": {"field": "x0", "type": "quantitative", "scale": {"domain": [-1.8, 0], "nice": false}, "axis": {"values": [-1.5, -1, -0.5], "labels": false, "title": null, "maxExtent": 0}},
       "x2": {"field": "x1"},
       "y": {"field": "nlolo", "type": "quantitative", "scale": {"domain": [0, 3.93], "nice": false}, "axis": {"values": [0, 1, 2, 3], "labels": false, "title": null, "maxExtent": 0}},
       "y2": {"field": "nlohi"}}},
     {"mark": {"type": "rect", "fill": {"gradient": "linear", "x1": 0, "y1": 0, "x2": 1, "y2": 1, "stops": [{"offset": 0, "color": "rgba(255,255,255,0)"}, {"offset": 0.14, "color": "rgba(255,255,255,0)"}, {"offset": 0.14, "color": "#3f86d4"}, {"offset": 0.2, "color": "#3f86d4"}, {"offset": 0.2, "color": "rgba(255,255,255,0)"}, {"offset": 0.34, "color": "rgba(255,255,255,0)"}, {"offset": 0.34, "color": "#3f86d4"}, {"offset": 0.4, "color": "#3f86d4"}, {"offset": 0.4, "color": "rgba(255,255,255,0)"}, {"offset": 0.54, "color": "rgba(255,255,255,0)"}, {"offset": 0.54, "color": "#3f86d4"}, {"offset": 0.6, "color": "#3f86d4"}, {"offset": 0.6, "color": "rgba(255,255,255,0)"}, {"offset": 0.74, "color": "rgba(255,255,255,0)"}, {"offset": 0.74, "color": "#3f86d4"}, {"offset": 0.8, "color": "#3f86d4"}, {"offset": 0.8, "color": "rgba(255,255,255,0)"}, {"offset": 0.94, "color": "rgba(255,255,255,0)"}, {"offset": 0.94, "color": "#3f86d4"}, {"offset": 1, "color": "#3f86d4"}]}, "stroke": "#5b9ad8", "strokeWidth": 1, "clip": true},
      "encoding": {"x": {"field": "x0", "type": "quantitative"}, "x2": {"field": "x1"}, "y": {"field": "lolo", "type": "quantitative"}, "y2": {"field": "lohi"}}},
     {"transform": [{"fold": ["x0", "x1"], "as": ["edge", "x"]}],
      "mark": {"type": "line", "color": "#1a2a9c", "strokeWidth": 2, "clip": true},
      "encoding": {"x": {"field": "x", "type": "quantitative"}, "y": {"field": "lo", "type": "quantitative"}, "order": [{"field": "x", "type": "quantitative"}, {"field": "edge", "type": "nominal", "sort": "descending"}]}},
     {"transform": [{"fold": ["x0", "x1"], "as": ["edge", "x"]}],
      "mark": {"type": "line", "color": "#c33b3b", "strokeWidth": 1.6, "clip": true},
      "encoding": {"x": {"field": "x", "type": "quantitative"}, "y": {"field": "nlo", "type": "quantitative"}, "order": [{"field": "x", "type": "quantitative"}, {"field": "edge", "type": "nominal", "sort": "descending"}]}},
     {"data": {"values": [{}]}, "mark": {"type": "text", "text": "500 < Q²/GeV² < 1000", "align": "left", "baseline": "middle", "fontSize": 12},
      "encoding": {"x": {"datum": -1.69}, "y": {"datum": 3.53}}}
    ]},
   {"width": 230, "height": 40, "data": {"name": "p5"},
    "layer": [
     {"data": {"values": [{}]}, "mark": {"type": "rule", "color": "#9a9a9a", "strokeWidth": 1.3}, "encoding": {"y": {"datum": 1}}},
     {"mark": {"type": "rect", "fill": "#9c5aa8", "fillOpacity": 0.4, "clip": true},
      "encoding": {"x": {"field": "x0", "type": "quantitative", "scale": {"domain": [-1.8, 0], "nice": false}, "axis": {"values": [-1.5, -1, -0.5], "format": ".1f", "title": "log₁₀(ξ₂)"}},
       "x2": {"field": "x1"},
       "y": {"field": "klo", "type": "quantitative", "scale": {"domain": [0, 2.45], "nice": false}, "axis": {"values": [0, 2], "labels": false, "title": null, "maxExtent": 0}},
       "y2": {"field": "khi"}}},
     {"transform": [{"fold": ["x0", "x1"], "as": ["edge", "x"]}],
      "mark": {"type": "line", "color": "#c33b3b", "strokeWidth": 1.6, "clip": true},
      "encoding": {"x": {"field": "x", "type": "quantitative"}, "y": {"field": "k", "type": "quantitative"}, "order": [{"field": "x", "type": "quantitative"}, {"field": "edge", "type": "nominal", "sort": "descending"}]}}
    ]}
  ], "spacing": 3, "bounds": "flush"},
 {"vconcat": [
   {"width": 230, "height": 85, "data": {"name": "p3"},
    "title": {"text": "√s = 140 GeV", "anchor": "end", "font": "Liberation Serif", "fontSize": 15, "fontWeight": "normal", "color": "#000", "dx": -8, "offset": 1},
    "layer": [
     {"mark": {"type": "rect", "fill": "#9c5aa8", "fillOpacity": 0.4, "clip": true},
      "encoding": {"x": {"field": "x0", "type": "quantitative", "scale": {"domain": [-1.8, 0], "nice": false}, "axis": {"values": [-1.5, -1, -0.5], "labels": false, "title": null, "maxExtent": 0}},
       "x2": {"field": "x1"},
       "y": {"field": "nlolo", "type": "quantitative", "scale": {"domain": [0, 3.93], "nice": false}, "axis": {"values": [0, 1, 2, 3], "labels": false, "title": null, "maxExtent": 0}},
       "y2": {"field": "nlohi"}}},
     {"mark": {"type": "rect", "fill": {"gradient": "linear", "x1": 0, "y1": 0, "x2": 1, "y2": 1, "stops": [{"offset": 0, "color": "rgba(255,255,255,0)"}, {"offset": 0.14, "color": "rgba(255,255,255,0)"}, {"offset": 0.14, "color": "#3f86d4"}, {"offset": 0.2, "color": "#3f86d4"}, {"offset": 0.2, "color": "rgba(255,255,255,0)"}, {"offset": 0.34, "color": "rgba(255,255,255,0)"}, {"offset": 0.34, "color": "#3f86d4"}, {"offset": 0.4, "color": "#3f86d4"}, {"offset": 0.4, "color": "rgba(255,255,255,0)"}, {"offset": 0.54, "color": "rgba(255,255,255,0)"}, {"offset": 0.54, "color": "#3f86d4"}, {"offset": 0.6, "color": "#3f86d4"}, {"offset": 0.6, "color": "rgba(255,255,255,0)"}, {"offset": 0.74, "color": "rgba(255,255,255,0)"}, {"offset": 0.74, "color": "#3f86d4"}, {"offset": 0.8, "color": "#3f86d4"}, {"offset": 0.8, "color": "rgba(255,255,255,0)"}, {"offset": 0.94, "color": "rgba(255,255,255,0)"}, {"offset": 0.94, "color": "#3f86d4"}, {"offset": 1, "color": "#3f86d4"}]}, "stroke": "#5b9ad8", "strokeWidth": 1, "clip": true},
      "encoding": {"x": {"field": "x0", "type": "quantitative"}, "x2": {"field": "x1"}, "y": {"field": "lolo", "type": "quantitative"}, "y2": {"field": "lohi"}}},
     {"transform": [{"fold": ["x0", "x1"], "as": ["edge", "x"]}],
      "mark": {"type": "line", "color": "#1a2a9c", "strokeWidth": 2, "clip": true},
      "encoding": {"x": {"field": "x", "type": "quantitative"}, "y": {"field": "lo", "type": "quantitative"}, "order": [{"field": "x", "type": "quantitative"}, {"field": "edge", "type": "nominal", "sort": "descending"}]}},
     {"transform": [{"fold": ["x0", "x1"], "as": ["edge", "x"]}],
      "mark": {"type": "line", "color": "#c33b3b", "strokeWidth": 1.6, "clip": true},
      "encoding": {"x": {"field": "x", "type": "quantitative"}, "y": {"field": "nlo", "type": "quantitative"}, "order": [{"field": "x", "type": "quantitative"}, {"field": "edge", "type": "nominal", "sort": "descending"}]}},
     {"data": {"values": [{}]}, "mark": {"type": "text", "text": "125 < Q²/GeV² < 250", "align": "right", "baseline": "middle", "fontSize": 12},
      "encoding": {"x": {"datum": -0.06}, "y": {"datum": 3.53}}}
    ]},
   {"width": 230, "height": 40, "data": {"name": "p3"},
    "layer": [
     {"data": {"values": [{}]}, "mark": {"type": "rule", "color": "#9a9a9a", "strokeWidth": 1.3}, "encoding": {"y": {"datum": 1}}},
     {"mark": {"type": "rect", "fill": "#9c5aa8", "fillOpacity": 0.4, "clip": true},
      "encoding": {"x": {"field": "x0", "type": "quantitative", "scale": {"domain": [-1.8, 0], "nice": false}, "axis": {"values": [-1.5, -1, -0.5], "labels": false, "title": null, "maxExtent": 0}},
       "x2": {"field": "x1"},
       "y": {"field": "klo", "type": "quantitative", "scale": {"domain": [0, 3.5], "nice": false}, "axis": {"values": [0, 2.5], "labels": false, "title": null, "maxExtent": 0}},
       "y2": {"field": "khi"}}},
     {"transform": [{"fold": ["x0", "x1"], "as": ["edge", "x"]}],
      "mark": {"type": "line", "color": "#c33b3b", "strokeWidth": 1.6, "clip": true},
      "encoding": {"x": {"field": "x", "type": "quantitative"}, "y": {"field": "k", "type": "quantitative"}, "order": [{"field": "x", "type": "quantitative"}, {"field": "edge", "type": "nominal", "sort": "descending"}]}}
    ]},
   {"width": 230, "height": 85, "data": {"name": "p6"},
    "layer": [
     {"mark": {"type": "rect", "fill": "#9c5aa8", "fillOpacity": 0.4, "clip": true},
      "encoding": {"x": {"field": "x0", "type": "quantitative", "scale": {"domain": [-1.8, 0], "nice": false}, "axis": {"values": [-1.5, -1, -0.5], "labels": false, "title": null, "maxExtent": 0}},
       "x2": {"field": "x1"},
       "y": {"field": "nlolo", "type": "quantitative", "scale": {"domain": [0, 3.93], "nice": false}, "axis": {"values": [0, 1, 2, 3], "labels": false, "title": null, "maxExtent": 0}},
       "y2": {"field": "nlohi"}}},
     {"mark": {"type": "rect", "fill": {"gradient": "linear", "x1": 0, "y1": 0, "x2": 1, "y2": 1, "stops": [{"offset": 0, "color": "rgba(255,255,255,0)"}, {"offset": 0.14, "color": "rgba(255,255,255,0)"}, {"offset": 0.14, "color": "#3f86d4"}, {"offset": 0.2, "color": "#3f86d4"}, {"offset": 0.2, "color": "rgba(255,255,255,0)"}, {"offset": 0.34, "color": "rgba(255,255,255,0)"}, {"offset": 0.34, "color": "#3f86d4"}, {"offset": 0.4, "color": "#3f86d4"}, {"offset": 0.4, "color": "rgba(255,255,255,0)"}, {"offset": 0.54, "color": "rgba(255,255,255,0)"}, {"offset": 0.54, "color": "#3f86d4"}, {"offset": 0.6, "color": "#3f86d4"}, {"offset": 0.6, "color": "rgba(255,255,255,0)"}, {"offset": 0.74, "color": "rgba(255,255,255,0)"}, {"offset": 0.74, "color": "#3f86d4"}, {"offset": 0.8, "color": "#3f86d4"}, {"offset": 0.8, "color": "rgba(255,255,255,0)"}, {"offset": 0.94, "color": "rgba(255,255,255,0)"}, {"offset": 0.94, "color": "#3f86d4"}, {"offset": 1, "color": "#3f86d4"}]}, "stroke": "#5b9ad8", "strokeWidth": 1, "clip": true},
      "encoding": {"x": {"field": "x0", "type": "quantitative"}, "x2": {"field": "x1"}, "y": {"field": "lolo", "type": "quantitative"}, "y2": {"field": "lohi"}}},
     {"transform": [{"fold": ["x0", "x1"], "as": ["edge", "x"]}],
      "mark": {"type": "line", "color": "#1a2a9c", "strokeWidth": 2, "clip": true},
      "encoding": {"x": {"field": "x", "type": "quantitative"}, "y": {"field": "lo", "type": "quantitative"}, "order": [{"field": "x", "type": "quantitative"}, {"field": "edge", "type": "nominal", "sort": "descending"}]}},
     {"transform": [{"fold": ["x0", "x1"], "as": ["edge", "x"]}],
      "mark": {"type": "line", "color": "#c33b3b", "strokeWidth": 1.6, "clip": true},
      "encoding": {"x": {"field": "x", "type": "quantitative"}, "y": {"field": "nlo", "type": "quantitative"}, "order": [{"field": "x", "type": "quantitative"}, {"field": "edge", "type": "nominal", "sort": "descending"}]}},
     {"data": {"values": [{}]}, "mark": {"type": "text", "text": "1000 < Q²/GeV² < 2500", "align": "right", "baseline": "middle", "fontSize": 12},
      "encoding": {"x": {"datum": -0.06}, "y": {"datum": 3.53}}}
    ]},
   {"width": 230, "height": 40, "data": {"name": "p6"},
    "layer": [
     {"data": {"values": [{}]}, "mark": {"type": "rule", "color": "#9a9a9a", "strokeWidth": 1.3}, "encoding": {"y": {"datum": 1}}},
     {"mark": {"type": "rect", "fill": "#9c5aa8", "fillOpacity": 0.4, "clip": true},
      "encoding": {"x": {"field": "x0", "type": "quantitative", "scale": {"domain": [-1.8, 0], "nice": false}, "axis": {"values": [-1.5, -1, -0.5], "format": ".1f", "title": "log₁₀(ξ₂)"}},
       "x2": {"field": "x1"},
       "y": {"field": "klo", "type": "quantitative", "scale": {"domain": [0, 2.45], "nice": false}, "axis": {"values": [0, 2], "labels": false, "title": null, "maxExtent": 0}},
       "y2": {"field": "khi"}}},
     {"transform": [{"fold": ["x0", "x1"], "as": ["edge", "x"]}],
      "mark": {"type": "line", "color": "#c33b3b", "strokeWidth": 1.6, "clip": true},
      "encoding": {"x": {"field": "x", "type": "quantitative"}, "y": {"field": "k", "type": "quantitative"}, "order": [{"field": "x", "type": "quantitative"}, {"field": "edge", "type": "nominal", "sort": "descending"}]}}
    ]}
  ], "spacing": 3, "bounds": "flush"}
],
"spacing": 6
}
